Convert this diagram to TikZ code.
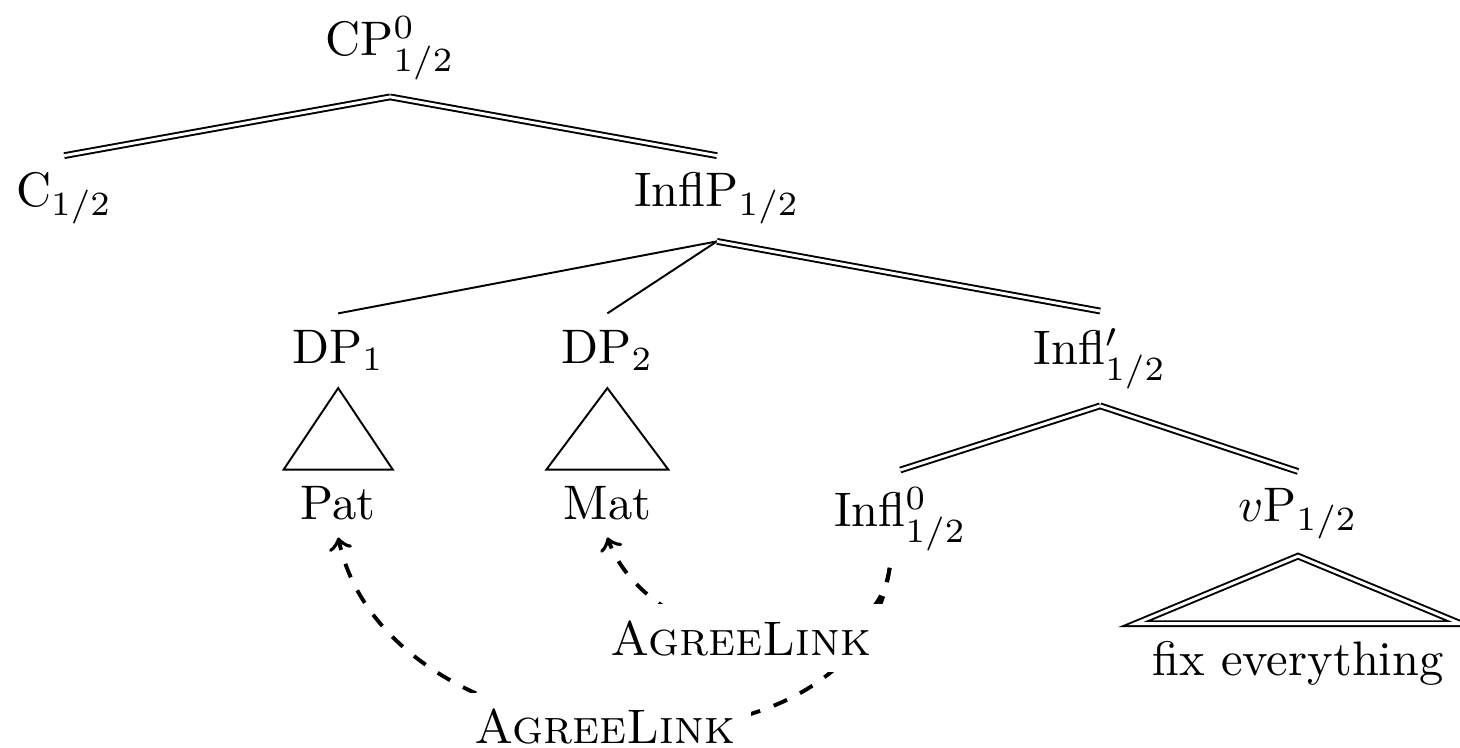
\documentclass[tikz,border=0pt]{standalone}
\usepackage{tikz}
\usetikzlibrary{positioning}
\tikzstyle{textonly} = [draw=none, fill=none, text centered, font=\normalsize]
\tikzstyle{branch} = [draw, line width=0.4pt]
\tikzstyle{dbranch} = [draw, line width=0.4pt, double]
\tikzstyle{agree} = [draw, thick, dashed, ->]
\tikzstyle{agreelabel} = [textonly, fill=white]

\begin{document}
\begin{tikzpicture}[on grid]
%tree
\node[textonly, anchor=base] (cp) {CP$^0_{1/2}$};
\node[textonly, below left = 31.2pt and 67.2pt of cp.base, anchor=base] (c) {C$_{1/2}$};
\node[textonly, below right = 31.2pt and 67.4pt of cp.base, anchor=base] (inflp) {InflP$_{1/2}$};

\node[textonly, below left = 32.3pt and 78.1pt of inflp.base, anchor=base] (dp1) {DP$_1$};
\node[textonly, below left = 32.3pt and 22.6pt of inflp.base, anchor=base] (dp2) {DP$_2$};
\node[textonly, below right = 32.5pt and 79pt of inflp.base, anchor=base] (infl1) {Infl$'_{1/2}$};

\node[textonly, below = 32.2pt of dp1.base, anchor=base] (pat) {Pat};
\node[textonly, below = 32.2pt of dp2.base, anchor=base] (mat) {Mat};
\node[textonly, below left = 33.4pt and 41.2pt of infl1.base, anchor=base] (infl0) {Infl$^0_{1/2}$};
\node[textonly, below right = 32.4pt and 40.8pt of infl1.base, anchor=base] (vp) {$v$P$_{1/2}$};
\node[textonly, below = 31.6pt of vp.base, anchor=base] (fix) {fix everything};

\useasboundingbox ([shift={(-80.4pt,10.9pt)}]cp.base) rectangle ++(301pt,-153.6pt);

%paths
\path[dbranch] (cp.south) -- (c.north);
\path[dbranch] (cp.south) -- (inflp.north);

\path[branch] (inflp.south) -- (dp1.north);
\path[branch] (inflp.south) -- (dp2.north);
\path[dbranch] (inflp.south) -- (infl1.north);

\path[dbranch] (infl1.south) -- (infl0.north);
\path[dbranch] (infl1.south) -- (vp.north);

%roofs
\path[branch] (dp1.south) -- (pat.north west) -- (pat.north east) -- cycle;
\path[branch] (dp2.south) -- (mat.north west) -- (mat.north east) -- cycle;
\path[dbranch] (vp.south) -- (fix.north west) -- (fix.north east) -- cycle;

%agree links
\path[agree] ([xshift=-2.2pt]infl0.south) to[out=-98, in=-78, looseness=1.1] node[agreelabel, pos=0.52] {\textsc{AgreeLink}} (pat.south);
\path[agree] ([xshift=-2.2pt]infl0.south) to[out=-98, in=-70, looseness=1.1] node[agreelabel, pos=0.545] {\textsc{AgreeLink}} (mat.south);

\end{tikzpicture}
\end{document}
